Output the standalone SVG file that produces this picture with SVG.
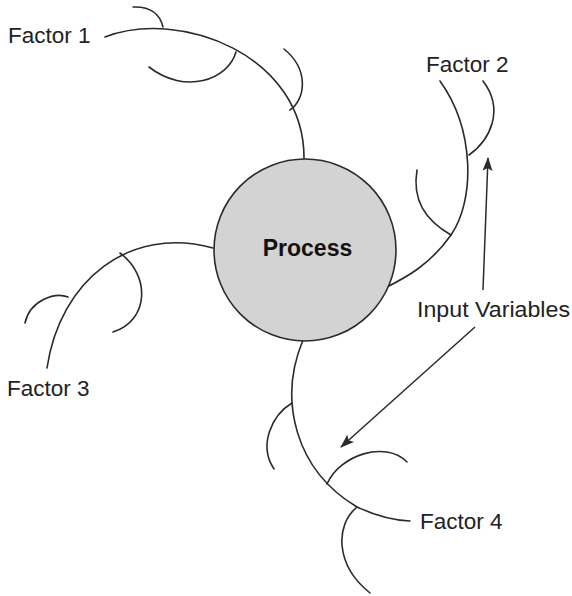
<svg xmlns="http://www.w3.org/2000/svg" width="572" height="596" viewBox="0 0 572 596">
<defs>
<style>
.c{fill:none;stroke:#2a2a2a;stroke-width:1.6;stroke-linecap:round}
.t{font-family:"Liberation Sans",Arial,sans-serif;font-size:22.5px;fill:#222}
.a{fill:none;stroke:#2a2a2a;stroke-width:1.5}
</style>
<marker id="ah" markerWidth="14" markerHeight="10" refX="13" refY="5" orient="auto" markerUnits="userSpaceOnUse">
<path d="M0,0 L14,5 L0,10 L3,5 Z" fill="#2a2a2a"/>
</marker>
</defs>
<rect width="572" height="596" fill="#fff"/>
<g id="connectors">
<path class="c" d="M105,37 C180,8 305,55 304,159"/>
<path class="c" d="M133,7 Q158,6 163,27"/>
<path class="c" d="M236,52 C228,80 185,95 149,67"/>
<path class="c" d="M290,110 C305,100 310,70 284,49"/>
<path class="c" d="M440,81 C475,130 475,200 451,235 C430,265 405,278 385,288"/>
<path class="c" d="M469,155 C490,140 505,110 483,81"/>
<path class="c" d="M417,170 C412,200 425,220 451,235"/>
<path class="c" d="M47,368 C60,280 130,225 213,248"/>
<path class="c" d="M68,297 C55,292 30,300 25,323"/>
<path class="c" d="M120,253 C150,275 150,320 113,332"/>
<path class="c" d="M303,340 C278,400 295,470 357,507 Q385,520 410,521"/>
<path class="c" d="M292,403 C272,415 258,445 274,469"/>
<path class="c" d="M327,484 C340,455 385,440 407,462"/>
<path class="c" d="M357,507 C335,525 335,565 370,593"/>
<line class="a" x1="483" y1="290" x2="488" y2="158" marker-end="url(#ah)"/>
<line class="a" x1="475" y1="327" x2="341" y2="447" marker-end="url(#ah)"/>
</g>
<g id="process">
<circle cx="305" cy="250" r="91" fill="#d3d3d3" stroke="#2a2a2a" stroke-width="1.6"/>
<text x="307.5" y="256" text-anchor="middle" font-family="Liberation Sans,Arial,sans-serif" font-size="23" font-weight="bold" fill="#111">Process</text>
</g>
<g id="factor1"><text class="t" x="8" y="43">Factor 1</text></g>
<g id="factor2"><text class="t" x="426" y="72">Factor 2</text></g>
<g id="factor3"><text class="t" x="7" y="396">Factor 3</text></g>
<g id="factor4"><text class="t" x="420" y="529">Factor 4</text></g>
<g id="input"><text class="t" x="417" y="317" textLength="153" lengthAdjust="spacingAndGlyphs">Input Variables</text></g>
</svg>
